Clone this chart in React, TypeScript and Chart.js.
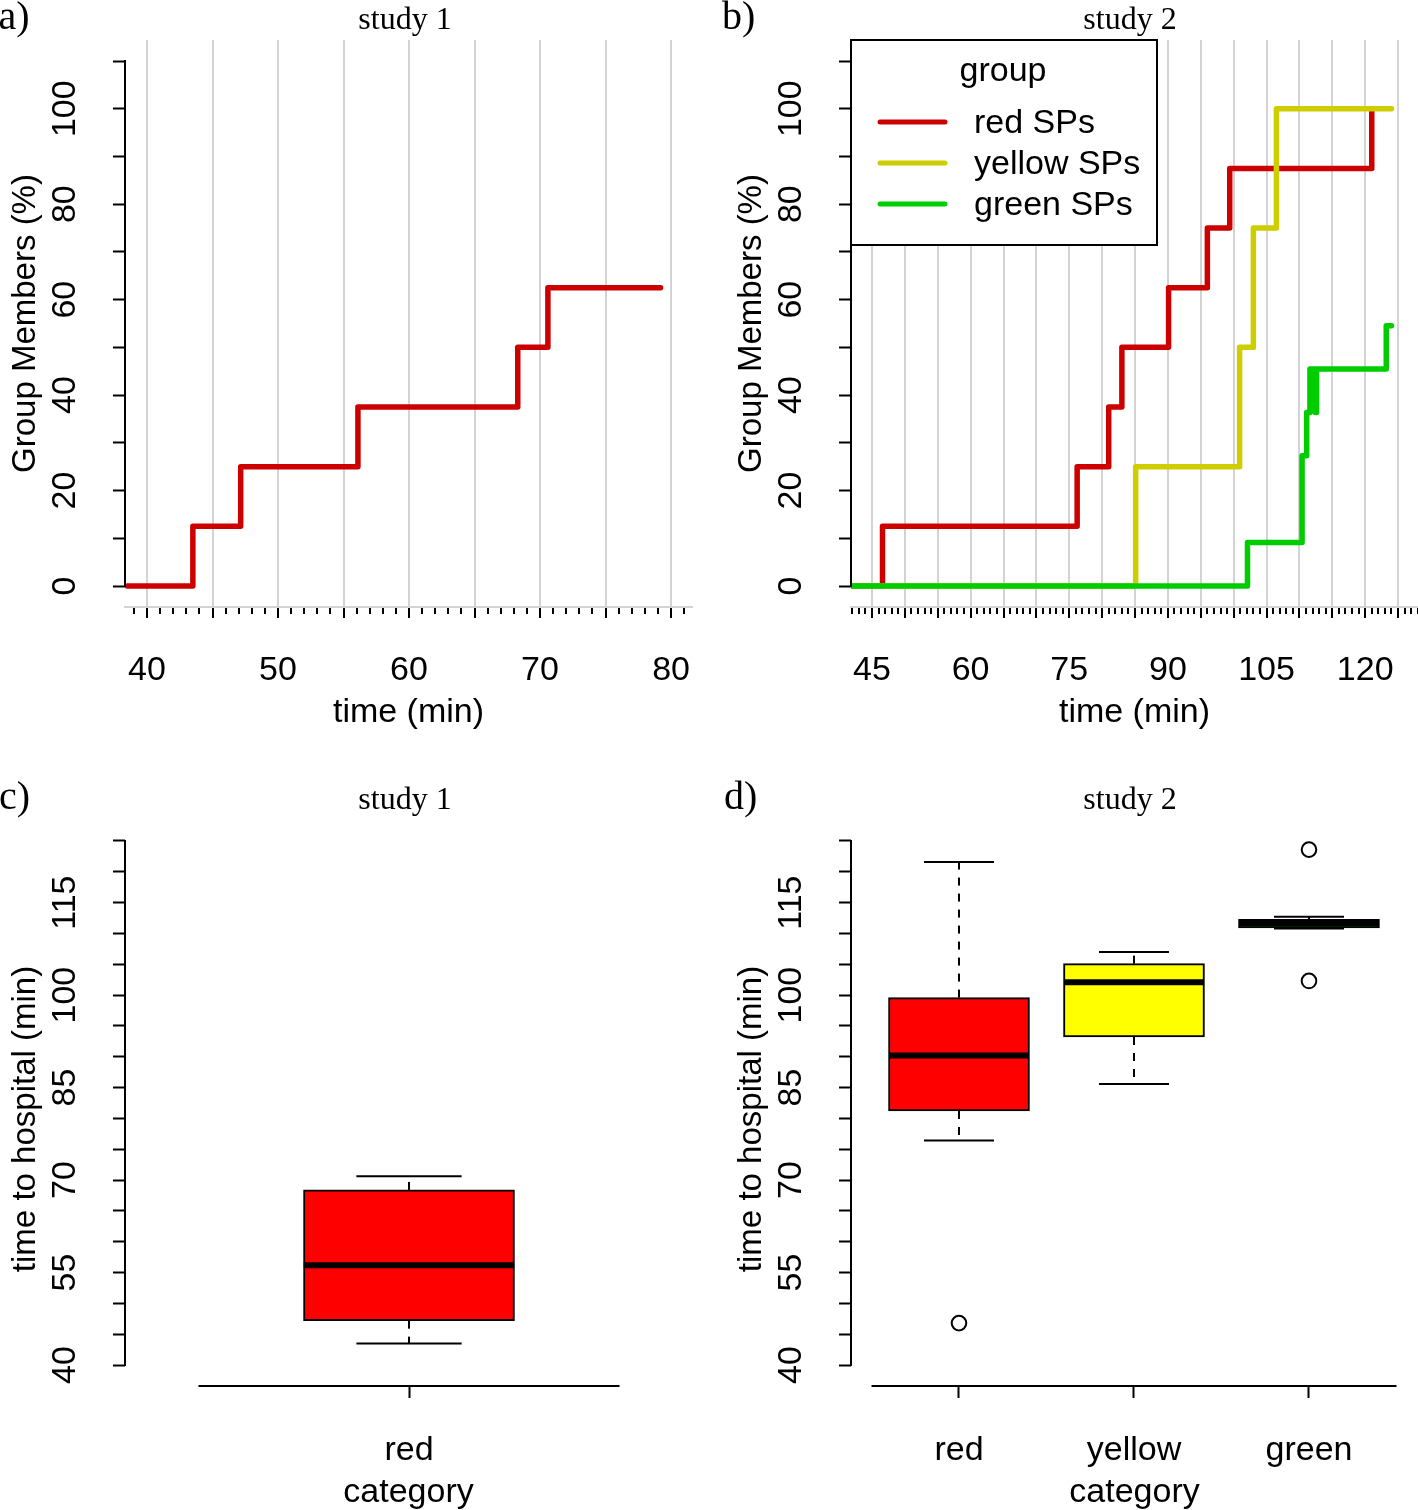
import React, { useEffect, useRef } from 'react';
import { Chart, registerables } from 'chart.js';

Chart.register(...registerables);

const SANS = '"Liberation Sans", Arial, Helvetica, sans-serif';
const SERIF = '"Liberation Serif", "Times New Roman", serif';
const GRID = '#D3D3D3';

// ---------------- data ----------------
// a) study 1 : cumulative share of red SPs arrived (%)
const study1Times = [38.5, 43.5, 47.15, 56.1, 68.3, 70.6, 79.2];
const study1RedPct = [0, 12.5, 25, 37.5, 50, 62.5, 62.5];

// b) study 2
const study2RedTimes = [41.9, 46.6, 76.2, 81.0, 83.0, 90.1, 96.0, 99.4, 121.0];
const study2RedPct = [0, 12.5, 25, 37.5, 50, 62.5, 75, 87.5, 100];
const study2YellowTimes = [41.9, 85.1, 100.9, 103.0, 106.5, 124.0];
const study2YellowPct = [0, 25, 50, 75, 100, 100];
const study2GreenTimes = [41.9, 102.1, 110.4, 111.1, 111.6, 112.4, 112.6, 123.2, 124.0];
const study2GreenPct = [0, 9.09, 27.27, 36.36, 45.45, 36.36, 45.45, 54.55, 54.55];

const groupNames = ['red SPs', 'yellow SPs', 'green SPs'];
const groupLineColors = ['#CD0000', '#CDCD00', '#00CD00'];

// tick labels
const study1XTickLabels = [40, 50, 60, 70, 80];
const study2XTickLabels = [45, 60, 75, 90, 105, 120];
const percentTickLabels = [0, 20, 40, 60, 80, 100];
const minuteTickLabels = [40, 55, 70, 85, 100, 115];

// c) study 1 box plot : time to hospital (min)
const study1Categories = ['red'];
const study1BoxMin = [43.5];
const study1BoxQ1 = [47.2];
const study1BoxMedian = [56.2];
const study1BoxQ3 = [68.4];
const study1BoxMax = [70.6];
const study1Outliers: number[][] = [[]];
const study1BoxFills = ['#FF0000'];

// d) study 2 box plot
const study2Categories = ['red', 'yellow', 'green'];
const study2BoxMin = [76.4, 85.6, 110.8];
const study2BoxQ1 = [81.2, 93.2, 110.9];
const study2BoxMedian = [90.2, 102.1, 111.6];
const study2BoxQ3 = [99.6, 105.1, 112.3];
const study2BoxMax = [121.6, 107.0, 112.7];
const study2Outliers: number[][] = [[46.8], [], [102.3, 123.6]];
const study2BoxFills = ['#FF0000', '#FFFF00', '#00FF00'];

// ---------------- helpers ----------------
const FONT_TICK = { family: SANS, size: 34 };

function decor(o: any) {
  return {
    id: 'decor',
    afterDraw(chart: any) {
      const { ctx, chartArea: ca, scales } = chart;
      const xs = scales.x;
      const ys = scales.y;
      ctx.save();

      // legend (R style, inside plot)
      if (o.legend) {
        const bx = ca.left, by = ca.top, bw = 306, bh = 205;
        ctx.fillStyle = '#fff';
        ctx.fillRect(bx, by, bw, bh);
        ctx.lineWidth = 2;
        ctx.strokeStyle = '#000';
        ctx.strokeRect(bx, by, bw, bh);
        ctx.fillStyle = '#000';
        ctx.font = `34px ${SANS}`;
        ctx.textBaseline = 'alphabetic';
        ctx.textAlign = 'center';
        ctx.fillText(o.legend, bx + 152, by + 41);
        ctx.textAlign = 'left';
        chart.data.datasets.forEach((d: any, i: number) => {
          const ly = by + 82 + i * 41;
          ctx.strokeStyle = d.borderColor;
          ctx.lineWidth = 5;
          ctx.lineCap = 'round';
          ctx.beginPath();
          ctx.moveTo(bx + 29, ly);
          ctx.lineTo(bx + 94, ly);
          ctx.stroke();
          ctx.fillText(d.label, bx + 123, by + 93 + i * 41);
        });
      }

      // y axis line (only over the labelled range)
      ctx.strokeStyle = '#000';
      ctx.lineWidth = 2;
      ctx.lineCap = 'butt';
      ctx.beginPath();
      ctx.moveTo(ca.left, ys.getPixelForValue(o.yLine[0]) + 1);
      ctx.lineTo(ca.left, ys.getPixelForValue(o.yLine[1]) - 1);
      ctx.stroke();

      // x axis line for category panels
      if (o.xLine) {
        ctx.beginPath();
        ctx.moveTo(xs.getPixelForValue(o.xLine[0]), ca.bottom);
        ctx.lineTo(xs.getPixelForValue(o.xLine[1]), ca.bottom);
        ctx.stroke();
      }

      // rotated y tick labels
      ctx.fillStyle = '#000';
      ctx.font = `34px ${SANS}`;
      ctx.textAlign = 'center';
      ctx.textBaseline = 'middle';
      ys.ticks.forEach((t: any) => {
        if (!t.label) return;
        const py = ys.getPixelForValue(t.value);
        ctx.save();
        ctx.translate(ca.left - 59, py);
        ctx.rotate(-Math.PI / 2);
        ctx.fillText(String(t.label), 0, 0);
        ctx.restore();
      });

      // y title drawn by hand (box panels)
      if (o.yTitle) {
        ctx.font = `33px ${SANS}`;
        ctx.save();
        ctx.translate(ca.left - 99, o.yTitle.y);
        ctx.rotate(-Math.PI / 2);
        ctx.fillText(o.yTitle.text, 0, 0);
        ctx.restore();
      }

      // panel letter & title
      ctx.textBaseline = 'alphabetic';
      ctx.textAlign = 'left';
      ctx.font = `40px ${SERIF}`;
      ctx.fillText(o.letter, o.letterX, o.baseline);
      ctx.textAlign = 'center';
      ctx.font = `32px ${SERIF}`;
      ctx.fillText(o.title, o.titleX, o.baseline);

      ctx.restore();
    },
  };
}

function stepConfig(p: any) {
  const { W, H, L, R, T, B } = p.rect;
  const n = p.series.length;
  return {
    type: 'line',
    data: {
      datasets: p.series.map((s: any, i: number) => ({
        label: s.label,
        data: s.times.map((t: number, j: number) => ({ x: t, y: s.pct[j] })),
        borderColor: s.color,
        backgroundColor: s.color,
        borderWidth: 5.5,
        pointRadius: 0,
        stepped: 'before',
        fill: false,
        borderCapStyle: 'round',
        borderJoinStyle: 'round',
        order: n - i,
      })),
    },
    options: {
      animation: false,
      responsive: false,
      events: [],
      layout: { padding: { left: L - 125, right: W - R, top: T, bottom: 0 } },
      plugins: { legend: { display: false }, tooltip: { enabled: false }, title: { display: false } },
      scales: {
        x: {
          type: 'linear',
          position: 'bottom',
          min: p.xMin,
          max: p.xMax,
          offset: false,
          afterFit: (s: any) => { s.height = H - B; },
          border: { display: true, color: GRID, width: 2 },
          grid: {
            display: true,
            offset: false,
            drawOnChartArea: true,
            drawTicks: true,
            color: (c: any) => (c.tick && Math.round(c.tick.value) % 5 !== 0 ? 'rgba(0,0,0,0)' : GRID),
            lineWidth: 2,
            tickLength: 11,
            tickColor: '#000',
            tickWidth: 2,
            tickBorderDash: (c: any) => (c.tick && Math.round(c.tick.value) % 5 !== 0 ? [6, 40] : []),
          },
          ticks: {
            stepSize: 1,
            includeBounds: false,
            autoSkip: false,
            maxRotation: 0,
            minRotation: 0,
            padding: 32,
            color: '#000',
            font: FONT_TICK,
            callback: (v: number) => (p.xLabels.includes(v) ? String(v) : ''),
          },
          title: {
            display: true,
            text: 'time (min)',
            color: '#000',
            font: { family: SANS, size: 34 },
            padding: { top: 0, bottom: 22 },
          },
        },
        y: {
          type: 'linear',
          position: 'left',
          min: -4.4,
          max: 114.4,
          afterFit: (s: any) => { s.width = 125; },
          border: { display: false },
          grid: { display: true, drawOnChartArea: false, drawTicks: true, tickLength: 12, tickColor: '#000', tickWidth: 2 },
          ticks: {
            stepSize: 10,
            includeBounds: false,
            display: false,
            callback: (v: number) => (percentTickLabels.includes(v) ? String(v) : ''),
          },
          title: {
            display: true,
            text: 'Group Members (%)',
            color: '#000',
            font: { family: SANS, size: 33 },
            padding: { top: 6, bottom: 0 },
          },
        },
      },
    },
    plugins: [decor({ ...p.decor, yLine: [0, 110] })],
  };
}

function boxConfig(p: any) {
  const { W, H, L, R, T, B } = p.rect;
  const half = p.boxWidth / 2;
  const capHalf = p.capWidth / 2;
  const cats: string[] = p.categories;
  const datasets: any[] = [];
  datasets.push({
    type: 'bar',
    label: 'box',
    data: cats.map((_c, i) => ({ x: i + 1, y: [p.q1[i], p.q3[i]] })),
    backgroundColor: p.fills,
    borderColor: '#000',
    borderWidth: 2,
    borderSkipped: false,
    barThickness: p.barPx,
    order: 5,
  });
  const seg = (pts: any[], extra: any) => ({
    type: 'line',
    data: pts,
    borderColor: '#000',
    pointRadius: 0,
    fill: false,
    ...extra,
  });
  cats.forEach((_c, i) => {
    const x = i + 1;
    datasets.push(seg([{ x, y: p.q3[i] }, { x, y: p.max[i] }], { borderWidth: 2, borderDash: [8, 8], order: 4 }));
    datasets.push(seg([{ x, y: p.q1[i] }, { x, y: p.min[i] }], { borderWidth: 2, borderDash: [8, 8], order: 4 }));
    datasets.push(seg([{ x: x - capHalf, y: p.max[i] }, { x: x + capHalf, y: p.max[i] }], { borderWidth: 2, order: 3 }));
    datasets.push(seg([{ x: x - capHalf, y: p.min[i] }, { x: x + capHalf, y: p.min[i] }], { borderWidth: 2, order: 3 }));
    datasets.push(seg([{ x: x - half, y: p.median[i] }, { x: x + half, y: p.median[i] }], { borderWidth: 6, borderCapStyle: 'butt', order: 2 }));
  });
  const outPts: any[] = [];
  p.outliers.forEach((arr: number[], i: number) => arr.forEach((v) => outPts.push({ x: i + 1, y: v })));
  datasets.push({
    type: 'line',
    data: outPts,
    showLine: false,
    pointRadius: 7.3,
    pointStyle: 'circle',
    pointBorderWidth: 2,
    pointBorderColor: '#000',
    pointBackgroundColor: 'rgba(0,0,0,0)',
    order: 1,
  });

  return {
    type: 'line',
    data: { datasets },
    options: {
      animation: false,
      responsive: false,
      events: [],
      layout: { padding: { left: L - 125, right: W - R, top: T, bottom: 0 } },
      plugins: { legend: { display: false }, tooltip: { enabled: false }, title: { display: false } },
      scales: {
        x: {
          type: 'linear',
          position: 'bottom',
          min: p.xMin,
          max: p.xMax,
          offset: false,
          afterFit: (s: any) => { s.height = H - B; },
          border: { display: false },
          grid: { display: true, offset: false, drawOnChartArea: false, drawTicks: true, tickLength: 12, tickColor: '#000', tickWidth: 2 },
          ticks: {
            stepSize: 1,
            includeBounds: false,
            autoSkip: false,
            maxRotation: 0,
            minRotation: 0,
            padding: 32,
            color: '#000',
            font: FONT_TICK,
            callback: (v: number) => cats[Math.round(v) - 1] ?? '',
          },
          title: {
            display: true,
            text: 'category',
            color: '#000',
            font: { family: SANS, size: 34 },
            padding: { top: 0, bottom: 12 },
          },
        },
        y: {
          type: 'linear',
          position: 'left',
          min: 36.6,
          max: 128.4,
          afterFit: (s: any) => { s.width = 125; },
          border: { display: false },
          grid: { display: true, drawOnChartArea: false, drawTicks: true, tickLength: 12, tickColor: '#000', tickWidth: 2 },
          ticks: {
            stepSize: 5,
            includeBounds: false,
            display: false,
            callback: (v: number) => (minuteTickLabels.includes(v) ? String(v) : ''),
          },
          title: { display: false },
        },
      },
    },
    plugins: [
      decor({
        ...p.decor,
        yLine: [40, 125],
        xLine: [0.5, cats.length + 0.5],
        yTitle: { text: 'time to hospital (min)', y: 364 },
      }),
    ],
  };
}

const makeA = () =>
  stepConfig({
    rect: { W: 760, H: 755, L: 125, R: 692, T: 40, B: 607 },
    xMin: 38.32,
    xMax: 81.6,
    xLabels: study1XTickLabels,
    series: [{ label: groupNames[0], color: groupLineColors[0], times: study1Times, pct: study1RedPct }],
    decor: { letter: 'a)', letterX: -1.5, title: 'study 1', titleX: 405, baseline: 29 },
  });

const makeB = () =>
  stepConfig({
    rect: { W: 760, H: 755, L: 142, R: 709, T: 40, B: 607 },
    xMin: 41.81,
    xMax: 128.03,
    xLabels: study2XTickLabels,
    series: [
      { label: groupNames[0], color: groupLineColors[0], times: study2RedTimes, pct: study2RedPct },
      { label: groupNames[1], color: groupLineColors[1], times: study2YellowTimes, pct: study2YellowPct },
      { label: groupNames[2], color: groupLineColors[2], times: study2GreenTimes, pct: study2GreenPct },
    ],
    decor: { letter: 'b)', letterX: 13, title: 'study 2', titleX: 421, baseline: 29, legend: 'group' },
  });

const makeC = () =>
  boxConfig({
    rect: { W: 760, H: 770, L: 125, R: 692, T: 65, B: 631 },
    xMin: 0.3254,
    xMax: 1.6722,
    categories: study1Categories,
    min: study1BoxMin,
    q1: study1BoxQ1,
    median: study1BoxMedian,
    q3: study1BoxQ3,
    max: study1BoxMax,
    outliers: study1Outliers,
    fills: study1BoxFills,
    boxWidth: 0.5,
    capWidth: 0.25,
    barPx: 211,
    decor: { letter: 'c)', letterX: -1, title: 'study 1', titleX: 405, baseline: 54 },
  });

const makeD = () =>
  boxConfig({
    rect: { W: 760, H: 770, L: 142, R: 709, T: 65, B: 631 },
    xMin: 0.3829,
    xMax: 3.6229,
    categories: study2Categories,
    min: study2BoxMin,
    q1: study2BoxQ1,
    median: study2BoxMedian,
    q3: study2BoxQ3,
    max: study2BoxMax,
    outliers: study2Outliers,
    fills: study2BoxFills,
    boxWidth: 0.8,
    capWidth: 0.4,
    barPx: 141,
    decor: { letter: 'd)', letterX: 15, title: 'study 2', titleX: 421, baseline: 54 },
  });

function ChartCanvas(props: { make: () => any; left: number; top: number; width: number; height: number }) {
  const ref = useRef<HTMLCanvasElement>(null);
  useEffect(() => {
    const chart = new Chart(ref.current as HTMLCanvasElement, props.make() as any);
    return () => chart.destroy();
  }, []);
  return (
    <canvas
      ref={ref}
      width={props.width}
      height={props.height}
      style={{ position: 'absolute', left: props.left, top: props.top, width: props.width, height: props.height }}
    />
  );
}

export default function App() {
  return (
    <div
      style={{
        position: 'absolute',
        left: 0,
        top: 0,
        width: 1418,
        height: 1510,
        overflow: 'hidden',
        background: '#fff',
      }}
    >
      <ChartCanvas make={makeA} left={0} top={0} width={760} height={755} />
      <ChartCanvas make={makeB} left={709} top={0} width={760} height={755} />
      <ChartCanvas make={makeC} left={0} top={755} width={760} height={770} />
      <ChartCanvas make={makeD} left={709} top={755} width={760} height={770} />
    </div>
  );
}
